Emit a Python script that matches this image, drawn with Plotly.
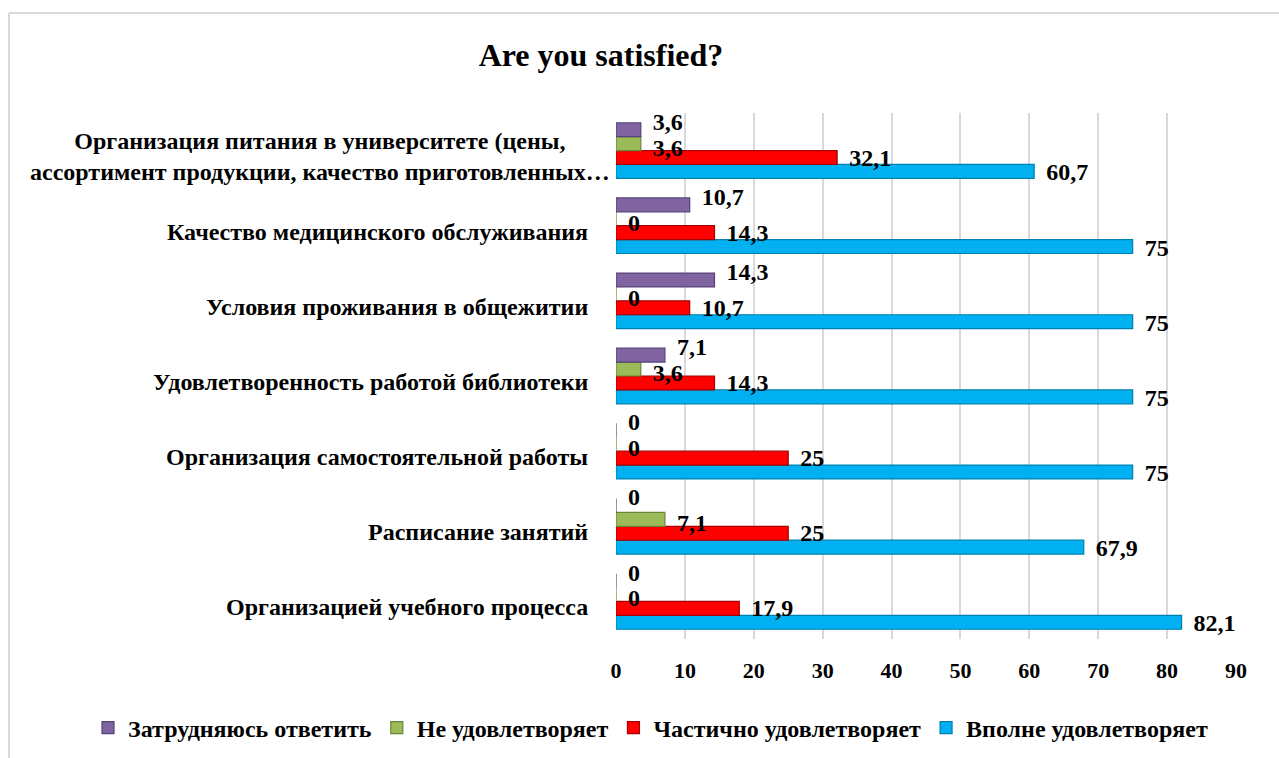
import plotly.graph_objects as go

# Survey categories (bottom to top as drawn)
categories = [
    "Организацией учебного процесса",
    "Расписание занятий",
    "Организация самостоятельной работы",
    "Удовлетворенность работой библиотеки",
    "Условия проживания в общежитии",
    "Качество медицинского обслуживания",
    "Организация питания в университете (цены,<br>ассортимент продукции, качество приготовленных…",
]

# Share of answers, %
fully_satisfied = [82.1, 67.9, 75, 75, 75, 75, 60.7]
partly_satisfied = [17.9, 25, 25, 14.3, 10.7, 14.3, 32.1]
not_satisfied = [0, 7.1, 0, 3.6, 0, 0, 3.6]
hard_to_say = [0, 0, 0, 7.1, 14.3, 10.7, 3.6]

series_names = ["Вполне удовлетворяет", "Частично удовлетворяет",
                "Не удовлетворяет", "Затрудняюсь ответить"]
series_values = [fully_satisfied, partly_satisfied, not_satisfied, hard_to_say]
series_colors = ["#00B0F0", "#FF0000", "#9BBB59", "#8064A2"]
series_edges = ["#0080B0", "#A80000", "#6A8536", "#56437A"]
# vertical nudge of each series' value labels, px (keeps stacked labels apart)
label_nudge_px = [-3, -2, -6, 6]

x_ticks = list(range(0, 91, 10))

W, H = 1279, 758
M_L, M_R, M_T, M_B = 616, 43, 113, 119
PW = W - M_L - M_R
PH = H - M_T - M_B
FONT = "Liberation Serif, Times New Roman, serif"
BARGAP = 0.26
N_CAT = len(categories)
N_SER = len(series_names)
PX_PER_CAT = PH / N_CAT


def fmt(v):
    s = f"{v:g}".replace(".", ",")
    return "\u00a0\u00a0" + s


cat_pos = list(range(N_CAT))
bar_w = (1 - BARGAP) / N_SER

fig = go.Figure()
for name, vals, col, edge in zip(series_names, series_values, series_colors, series_edges):
    fig.add_trace(go.Bar(
        y=cat_pos,
        x=vals,
        name=name,
        orientation="h",
        marker=dict(color=col, line=dict(color=edge, width=1.2)),
        hoverinfo="x+name",
    ))

# value labels at the end of each bar
for k, (vals, nudge) in enumerate(zip(series_values, label_nudge_px)):
    off = -(1 - BARGAP) / 2 + bar_w * (k + 0.5) + nudge / PX_PER_CAT
    fig.add_trace(go.Scatter(
        x=vals,
        y=[c + off for c in cat_pos],
        mode="text",
        text=[fmt(v) for v in vals],
        textposition="middle right",
        textfont=dict(family=FONT, size=24, color="black", weight="bold"),
        cliponaxis=False,
        showlegend=False,
        hoverinfo="skip",
    ))

annotations = []
for i, cat in enumerate(categories):
    long = "<br>" in cat
    annotations.append(dict(
        text=f"<b>{cat}</b>",
        x=0, xref="paper", y=i, yref="y",
        xanchor="right", yanchor="middle", align="center",
        xshift=-4 if long else -26, yshift=-6,
        showarrow=False,
        font=dict(family=FONT, size=24, color="black"),
    ))

# chart frame edges (left and top)
shapes = [
    dict(type="line", xref="paper", yref="paper",
         x0=(9 - M_L) / PW, x1=(9 - M_L) / PW,
         y0=(H - M_B - 13) / PH, y1=(H - M_B - H - 20) / PH,
         line=dict(color="#D9D9D9", width=2)),
    dict(type="line", xref="paper", yref="paper",
         x0=(9 - M_L) / PW, x1=(W + 20 - M_L) / PW,
         y0=(H - M_B - 13) / PH, y1=(H - M_B - 13) / PH,
         line=dict(color="#D9D9D9", width=2)),
]

fig.update_layout(
    width=W, height=H,
    margin=dict(l=M_L, r=M_R, t=M_T, b=M_B, autoexpand=False),
    paper_bgcolor="white", plot_bgcolor="white",
    barmode="group", bargap=BARGAP, bargroupgap=0,
    title=dict(text="<b>Are you satisfied?</b>", x=601 / W, xanchor="center",
               y=1 - 55 / H, yanchor="middle",
               font=dict(family=FONT, size=32, color="black")),
    xaxis=dict(range=[0, 90], tickvals=x_ticks, showgrid=True,
               gridcolor="#D9D9D9", gridwidth=2, zeroline=False,
               showline=False, ticks="", ticklabelstandoff=16,
               tickfont=dict(family=FONT, size=22, color="black", weight="bold")),
    yaxis=dict(range=[-0.5, N_CAT - 0.5], showticklabels=False,
               showgrid=False, zeroline=False, showline=False),
    legend=dict(orientation="h", traceorder="reversed",
                x=(88 - M_L) / PW, xanchor="left",
                y=(H - M_B - 728) / PH, yanchor="middle",
                font=dict(family=FONT, size=24, color="black", weight="bold"),
                itemwidth=30, itemclick=False),
    annotations=annotations,
    shapes=shapes,
    showlegend=True,
)

fig.write_html("out.html")
